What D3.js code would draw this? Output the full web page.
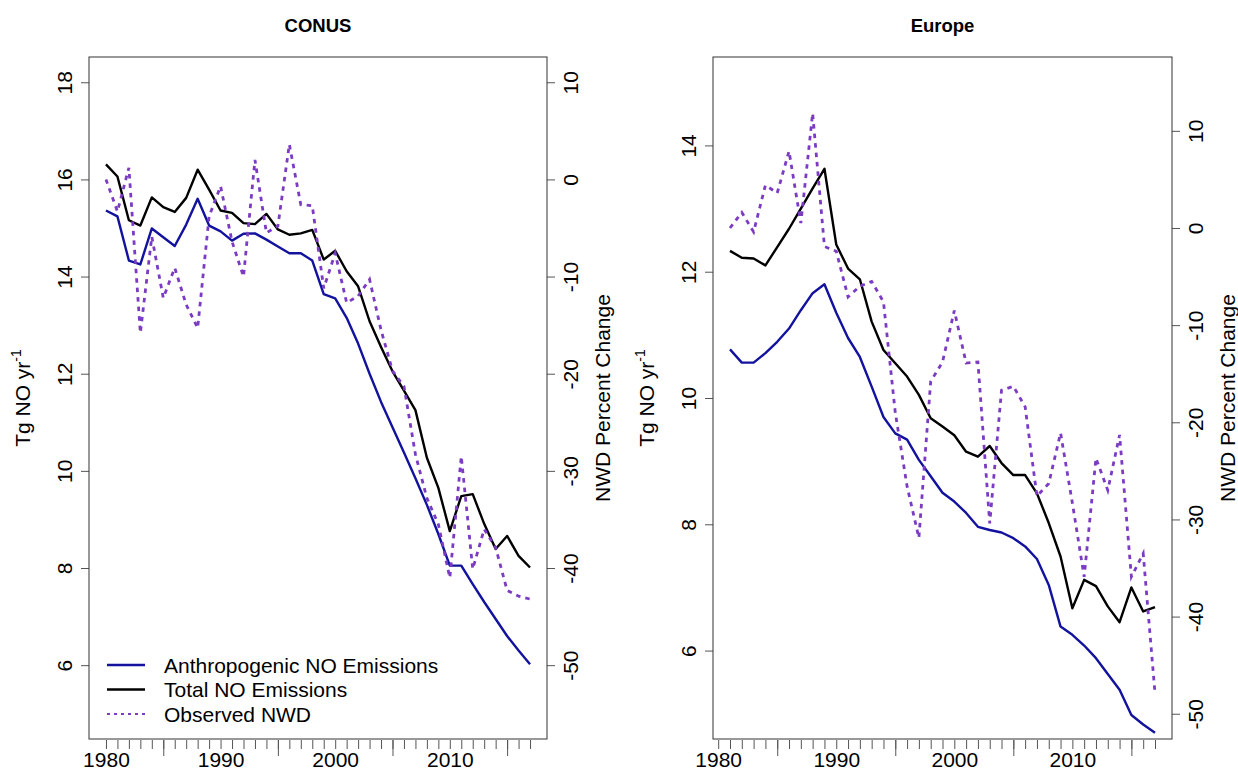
<!DOCTYPE html>
<html>
<head>
<meta charset="utf-8">
<script src="https://cdn.jsdelivr.net/npm/d3@7"></script>
<style>
  body { margin: 0; background: #fff; }
  svg { font-family: "Liberation Sans", Arial, sans-serif; }
  .tick line { stroke: #555; }
</style>
</head>
<body>
<svg id="chart" width="1238" height="772"></svg>
<script>
// CONUS, 1980-2017
const conusYears = d3.range(1980, 2018);
const conusAnthro = [15.36, 15.24, 14.33, 14.25, 14.99, 14.81, 14.63, 15.07, 15.60, 15.05,
  14.93, 14.74, 14.88, 14.89, 14.76, 14.62, 14.48, 14.48, 14.33, 13.64,
  13.55, 13.15, 12.62, 12.00, 11.42, 10.90, 10.38, 9.85, 9.30, 8.70,
  8.05, 8.05, 7.67, 7.30, 6.95, 6.60, 6.30, 6.02];
const conusTotal = [16.31, 16.06, 15.16, 15.05, 15.63, 15.43, 15.33, 15.62, 16.20, 15.79,
  15.36, 15.31, 15.10, 15.08, 15.29, 14.97, 14.86, 14.89, 14.96, 14.35,
  14.53, 14.11, 13.80, 13.08, 12.55, 12.05, 11.65, 11.25, 10.27, 9.65,
  8.76, 9.48, 9.52, 8.91, 8.39, 8.66, 8.25, 8.01];
const conusNWD = [0, -3.3, 1.2, -15.8, -5.9, -12.2, -9.1, -12.9, -15.3, -3.8,
  -0.7, -6.4, -10.0, 2.0, -5.5, -4.8, 3.6, -2.6, -2.7, -11.2,
  -7.6, -12.7, -12.0, -10.3, -15.5, -19.7, -21.3, -28.3, -32.8, -35.5,
  -41.0, -28.5, -40.1, -36.0, -37.9, -42.3, -42.9, -43.2];

// Europe, 1981-2017
const europeYears = d3.range(1981, 2018);
const europeAnthro = [10.77, 10.56, 10.56, 10.71, 10.89, 11.10, 11.39, 11.66, 11.80,
  11.35, 10.95, 10.65, 10.18, 9.70, 9.44, 9.34, 9.02, 8.76, 8.50,
  8.36, 8.18, 7.96, 7.91, 7.87, 7.78, 7.65, 7.45, 7.04, 6.38,
  6.25, 6.08, 5.88, 5.63, 5.38, 4.98, 4.83, 4.70];
const europeTotal = [12.33, 12.22, 12.21, 12.10, 12.39, 12.68, 13.00, 13.32, 13.63,
  12.43, 12.05, 11.88, 11.21, 10.76, 10.55, 10.34, 10.05, 9.68, 9.55,
  9.41, 9.15, 9.07, 9.24, 8.97, 8.78, 8.78, 8.49, 8.02, 7.49,
  6.67, 7.12, 7.02, 6.70, 6.45, 7.00, 6.62, 6.69];
const europeNWD = [0, 1.6, -0.4, 4.4, 3.6, 7.9, 0.5, 11.8, -1.9,
  -2.4, -7.1, -6.0, -5.5, -7.6, -19.0, -26.6, -31.9, -15.8, -13.8,
  -8.5, -13.9, -13.8, -30.4, -16.7, -16.3, -18.4, -27.6, -26.3, -21.1,
  -28.3, -35.9, -23.7, -27.0, -21.3, -35.9, -33.5, -47.9];

const leftTicksConus = [6, 8, 10, 12, 14, 16, 18];
const rightTicksConus = [-50, -40, -30, -20, -10, 0, 10];
const leftTicksEurope = [6, 8, 10, 12, 14];
const rightTicksEurope = [-50, -40, -30, -20, -10, 0, 10];
const xLabelYears = [1980, 1990, 2000, 2010];
const xLongTicks = [1985, 1995, 2005, 2015];

const legendLabels = ['Anthropogenic NO Emissions', 'Total NO Emissions', 'Observed NWD'];

const colBlue = '#12129e';
const colBlack = '#000000';
const colPurple = '#7b3bc2';

// R style axis extension (4% each side)
const ext = ([a, b]) => [a - 0.04 * (b - a), b + 0.04 * (b - a)];
const plain = d => String(d);   // keep ascii hyphen for negatives, like R

const svg = d3.select('#chart');
const plotTop = 57, plotBottom = 739;
const fs = 21;

const panels = [
  { title: 'CONUS', left: 89, right: 547, xlim: [1980, 2017], ylim: [5, 18], y2lim: [-55, 10],
    years: conusYears, anthro: conusAnthro, total: conusTotal, nwd: conusNWD,
    lt: leftTicksConus, rt: rightTicksConus, legend: true },
  { title: 'Europe', left: 713, right: 1172, xlim: [1981, 2017], ylim: [5, 15], y2lim: [-50, 15],
    years: europeYears, anthro: europeAnthro, total: europeTotal, nwd: europeNWD,
    lt: leftTicksEurope, rt: rightTicksEurope, legend: false }
];

panels.forEach(p => {
  const x = d3.scaleLinear().domain(ext(p.xlim)).range([p.left, p.right]);
  const y = d3.scaleLinear().domain(ext(p.ylim)).range([plotBottom, plotTop]);
  const y2 = d3.scaleLinear().domain(ext(p.y2lim)).range([plotBottom, plotTop]);
  const g = svg.append('g');

  // x axis: yearly minor ticks, longer ticks at mid-decades, decade labels
  const allYears = d3.range(1980, 2018);
  const xa = g.append('g').attr('transform', `translate(0,${plotBottom + 1})`);
  xa.append('g').call(d3.axisBottom(x).tickValues(allYears).tickSize(9).tickFormat(''));
  xa.append('g').call(d3.axisBottom(x).tickValues(xLongTicks).tickSize(16).tickFormat(''));
  xa.append('g').call(d3.axisBottom(x).tickValues(xLabelYears).tickSize(0).tickPadding(12).tickFormat(plain));
  xa.selectAll('.domain').remove();
  xa.selectAll('text').attr('font-size', fs).attr('fill', '#000').attr('font-family', null)
    .attr('dy', '0.71em');

  // left axis
  const ya = g.append('g').attr('transform', `translate(${p.left},0)`)
    .call(d3.axisLeft(y).tickValues(p.lt).tickSize(8).tickFormat(plain));
  ya.select('.domain').remove();
  ya.selectAll('text').attr('font-size', fs).attr('fill', '#000').attr('font-family', null)
    .attr('transform', 'rotate(-90)').attr('x', 0).attr('y', -17).attr('dy', 0)
    .attr('text-anchor', 'middle');

  // right axis
  const ya2 = g.append('g').attr('transform', `translate(${p.right},0)`)
    .call(d3.axisRight(y2).tickValues(p.rt).tickSize(8).tickFormat(plain));
  ya2.select('.domain').remove();
  ya2.selectAll('text').attr('font-size', fs).attr('fill', '#000').attr('font-family', null)
    .attr('transform', 'rotate(-90)').attr('x', 0).attr('y', 31).attr('dy', 0)
    .attr('text-anchor', 'middle');

  // box
  g.append('rect').attr('x', p.left).attr('y', plotTop)
    .attr('width', p.right - p.left).attr('height', plotBottom - plotTop)
    .attr('fill', 'none').attr('stroke', '#333').attr('stroke-width', 1);

  // lines
  const clipId = 'clip-' + p.title;
  g.append('clipPath').attr('id', clipId).append('rect')
    .attr('x', p.left).attr('y', plotTop).attr('width', p.right - p.left).attr('height', plotBottom - plotTop);
  const lines = g.append('g').attr('clip-path', `url(#${clipId})`);
  const line1 = d3.line().x((d, i) => x(p.years[i])).y(d => y(d));
  const line2 = d3.line().x((d, i) => x(p.years[i])).y(d => y2(d));
  lines.append('path').datum(p.anthro).attr('d', line1)
    .attr('fill', 'none').attr('stroke', colBlue).attr('stroke-width', 2.4).attr('stroke-linejoin', 'round');
  lines.append('path').datum(p.total).attr('d', line1)
    .attr('fill', 'none').attr('stroke', colBlack).attr('stroke-width', 2.4).attr('stroke-linejoin', 'round');
  lines.append('path').datum(p.nwd).attr('d', line2)
    .attr('fill', 'none').attr('stroke', colPurple).attr('stroke-width', 2.8)
    .attr('stroke-dasharray', '4.5,5');

  // title
  g.append('text').attr('x', (p.left + p.right) / 2).attr('y', 32)
    .attr('text-anchor', 'middle').attr('font-weight', 'bold').attr('font-size', 18.5)
    .text(p.title);

  // axis titles
  const cy = (plotTop + plotBottom) / 2;
  const yt = g.append('text').attr('transform', `translate(${p.left - 59},${cy}) rotate(-90)`)
    .attr('text-anchor', 'middle').attr('font-size', fs);
  yt.append('tspan').text('Tg NO yr');
  yt.append('tspan').attr('font-size', 14).attr('dy', -9).text('-1');
  g.append('text').attr('transform', `translate(${p.right + 63},${cy}) rotate(-90)`)
    .attr('text-anchor', 'middle').attr('font-size', fs).text('NWD Percent Change');

  if (p.legend) {
    const cols = [colBlue, colBlack, colPurple];
    const lg = g.append('g');
    legendLabels.forEach((lab, i) => {
      const ly = 665 + i * 24.5;
      lg.append('line').attr('x1', 107).attr('x2', 145).attr('y1', ly).attr('y2', ly)
        .attr('stroke', cols[i]).attr('stroke-width', i === 2 ? 2 : 2.4)
        .attr('stroke-dasharray', i === 2 ? '3,4' : null);
      lg.append('text').attr('x', 164).attr('y', ly + 7.5).attr('font-size', fs).text(lab);
    });
  }
});
</script>
</body>
</html>
